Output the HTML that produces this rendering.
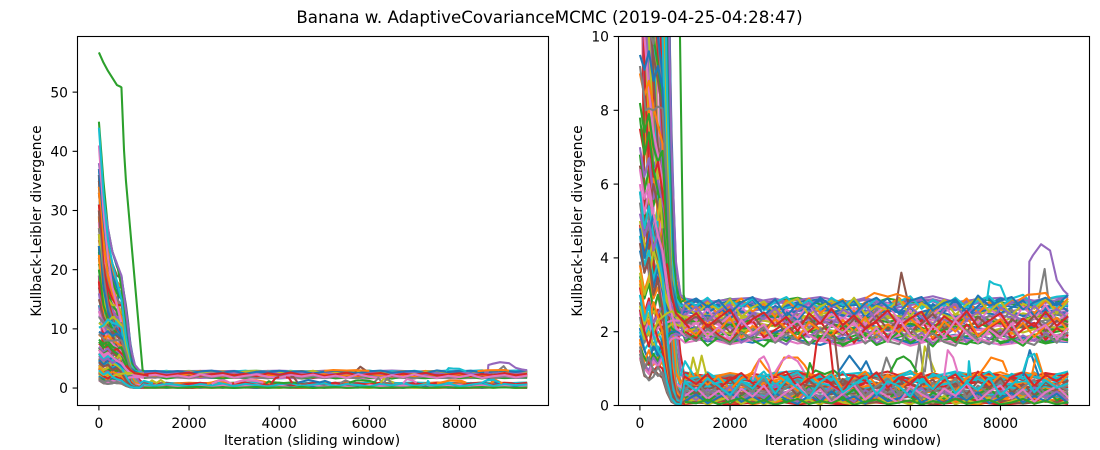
<!DOCTYPE html>
<html lang="en">
<head>
<meta charset="utf-8">
<title>Banana w. AdaptiveCovarianceMCMC</title>
<style>
html,body{margin:0;padding:0;background:#fff;width:1100px;height:450px;overflow:hidden}
svg{display:block}
text{font-family:"DejaVu Sans","Liberation Sans",sans-serif;fill:#000}
</style>
</head>
<body>
<svg id="figure" xmlns="http://www.w3.org/2000/svg" width="1100" height="450" viewBox="0 0 1100 450">
  <text x="549.5" y="23" text-anchor="middle" font-size="16.67">Banana w. AdaptiveCovarianceMCMC (2019-04-25-04:28:47)</text>
  <g id="left-chart"></g>
  <g id="right-chart"></g>
</svg>
<script>
const fallIterations=[0,100,200,300,400,500,600,650,700,750,800,900,1000];
const fallSeries=[
[36,9.5,5.2,4.6,5,4.4,3.4,2.8,2.4,2.2,2.1,2,2.1],
[29,7.5,6,5.2,4.4,4.9,3.8,2.6,1.4,.6,.3,.2,.3],
[24,5.5,4,4.6,3.8,3.4,2.4,1.4,.7,.3,.2,.3,.4],
[19,4.2,3.6,3,3.5,2.9,2.6,2.3,2.2,2.1,2,2,1.9],
[14,8.5,7.2,6.4,6.8,6,4.6,3.4,2.8,2.6,2.5,2.4,2.3],
[30,22,4.8,4,3.3,3.8,3,2.1,1.1,.5,.2,.15,.2],
[28,20,7,5.8,6.2,5.4,4.4,3.6,2.9,2.7,2.6,2.5,2.5],
[26,16,3.4,2.9,3.2,2.6,1.6,.9,.4,.2,.1,.1,.2],
[22,13,5.6,4.8,5.4,4.7,3.6,2.8,2.5,2.4,2.3,2.3,2.2],
[17,12,8.6,7.6,7,7.4,5.2,3.8,3,2.7,2.6,2.5,2.4],
[33,26,24,6.4,5.6,6,4.8,3,1.5,.7,.35,.3,.3],
[27,22,20,4.4,5,4.2,3.2,2.5,2.2,2.1,2,1.9,2],
[22,17,15,3.2,3.8,3.1,2.1,1.2,.6,.3,.15,.15,.25],
[16,14,13,7.8,6.8,7.2,5.6,4,3,2.7,2.5,2.4,2.4],
[12,13,12,5.2,4.6,5,3.9,3,2.6,2.4,2.3,2.2,2.2],
[36,28,23,21,5.2,4.6,3.8,2.2,1,.4,.2,.2,.3],
[30,24,20,17,7.4,6.6,5.4,4,3.1,2.8,2.6,2.5,2.5],
[24,19,16,14,3.6,4.2,3.3,2.6,2.3,2.2,2.1,2,2],
[18,15,14,12,6,5.6,4.2,2.6,1.2,.5,.2,.1,.2],
[13,11,12,11,4.4,3.8,2.6,1.5,.7,.3,.1,.1,.2],
[35,27,22,20,18,6.6,5,3.4,1.8,.8,.3,.2,.3],
[29,23,19,17,15,4.8,3.8,3,2.6,2.4,2.3,2.2,2.2],
[23,18,16,14,13,3.4,2.6,1.6,.8,.4,.15,.1,.2],
[17,15,14,13,12,8.4,6.4,4.6,3.3,2.8,2.6,2.5,2.5],
[12,12,11,12,11,5.8,4.4,2.9,1.4,.6,.25,.15,.25],
[34,26,21,19,17,16,6.8,5,3.6,3,2.7,2.6,2.6],
[28,22,18,16,15,14,4.8,2.9,1.6,.7,.3,.2,.3],
[22,17,15,14,13,13,5.8,4.2,3.2,2.8,2.6,2.5,2.4],
[16,14,13,12,12,12,3.8,2.6,2.2,2.1,2,1.9,2],
[11,11,12,11,11,11,7.6,5.4,3.6,2.9,2.6,2.5,2.4],
[33,25,21,19,17,17,13,9,4,2.8,2.4,2.3,2.3],
[27,21,18,16,15,14,12,8,3.6,1.6,.6,.3,.3],
[21,17,15,14,13,13,11,7,3.2,1.4,.5,.2,.2],
[15,14,13,13,12,12,11,6.4,2.9,2.4,2.2,2.1,2.1],
[12,12,11,11,12,11,10.5,5.8,2.4,1,.4,.2,.2],
[35,28,24,21,19,18.5,14,11,7,3.8,2.9,2.7,2.6],
[30,25,21,19,17,16,13,10.5,6.4,3.4,2.7,2.6,2.5],
[26,21,18,16,15,14,12,10,5.8,3,1.6,.6,.4],
[20,16,15,14,14,13,11.5,9.2,5.2,2.6,1.3,.4,.3],
[14,13,12,12,11,12,10.8,8.4,4.8,2.4,1.1,.3,.2],
[37,30,26,23,20.5,19,13.5,10.5,7.5,5.4,3.8,3,2.8],
[34,27,23,20,18,17,12.5,9.6,7,4.8,3.4,2.9,2.8],
[31,25,21,18,16,15,11.5,8.8,6.2,4.2,3,2.7,2.6],
[25,20,17,15,14,14,10,7.6,5.4,3.6,2.6,1.4,.7],
[19,15,14,13,12,12,9.2,7,4.8,3.2,2.2,1,.5],
[5.8,5,4.2,4.8,3.9,4.4,3.4,2.8,1.6,.7,.3,.2,.3],
[4.6,3.6,4.1,3.2,3.7,2.9,2.3,1.6,.8,.4,.2,.15,.2],
[3.9,2.9,3.4,2.5,3,2.3,2.4,2.5,2.4,2.3,2.2,2.2,2.2],
[3.3,2.4,1.9,2.7,2.1,2.6,2.2,2.3,2.4,2.4,2.3,2.3,2.4],
[2.6,1.8,2.2,1.6,2,1.7,1.2,.8,.4,.2,.1,.1,.15],
[2.1,1.5,1.2,1.7,1.3,1.8,1.9,2,2,2,1.95,1.95,1.9],
[1.8,1.1,.9,1.4,1,1.2,.6,.4,.2,.1,.08,.1,.2],
[6.8,5.8,6.4,5.4,5.9,5.2,4,3,2.6,2.4,2.3,2.2,2.2],
[4.9,4.1,4.7,3.8,3.3,3.9,3,2.6,2.4,2.3,2.3,2.4,2.4]
];
const iterations=[0,100,200,300,400,500,600,700,800,900,1000,1500,2000,2500,3000,3500,4000,4500,5000,5500,6000,6500,7000,7500,8000,8500,9000,9500];
const klSeries=[
[37,28,22,19,17,15,10,5.2,3.3,2.8,2.62,2.7,2.55,2.75,2.6,2.68,2.82,2.58,2.66,2.74,2.9,2.6,2.7,2.56,2.72,2.64,2.8,2.68],
[33,25,19,16,14,12,7,2.5,.9,.6,.82,.7,.85,.66,.9,.74,.6,.86,.72,.8,.64,.88,.7,.78,.9,.7,.84,.86],
[45,35,27,23,21,17,9,4.5,3.2,2.8,2.86,2.75,2.9,2.7,2.82,2.92,2.74,2.85,2.7,2.9,2.78,2.88,2.72,2.9,2.8,2.7,2.86,2.8],
[31,21,15,12,9.5,7.5,4,1.4,.5,.3,.42,.55,.35,.5,.62,.4,.52,.34,.6,.44,.56,.38,.5,.64,.4,.54,.36,.5],
[38,32,27,23,21,19,13,7,3.9,3,2.9,2.8,2.88,2.92,2.76,2.86,2.94,2.8,2.9,2.78,2.84,2.96,2.8,2.88,2.92,2.78,2.9,2.94],
[30,18,12,9,7,6,3.2,1,.4,.35,.22,.3,.15,.28,.2,.36,.18,.26,.12,.3,.22,.16,.32,.2,.28,.14,.26,.2],
[41,30,22,17,14,11,5,1.6,.6,.5,.66,.58,.72,.52,.68,.8,.56,.7,.6,.5,.74,.62,.54,.7,.58,.76,.6,.66],
[27,19,14,11.5,10,8.5,5.5,3.4,2.8,2.6,2.2,2.35,2.12,2.3,2.44,2.18,2.36,2.1,2.28,2.4,2.2,2.34,2.14,2.42,2.24,2.1,2.32,2.2],
[26,16,10,7.5,6,5,2.6,.8,.3,.2,.08,.14,.05,.12,.18,.06,.1,.16,.04,.12,.08,.18,.06,.14,.1,.05,.16,.08],
[44,33,25,21,18,15,8.5,4,2.9,2.7,2.72,2.6,2.78,2.66,2.56,2.74,2.62,2.8,2.68,2.58,2.76,2.64,2.82,2.6,2.7,2.84,2.62,2.72],
[24,17,13,11,10,9,5.8,3.5,2.8,2.4,2.46,2.32,2.5,2.38,2.56,2.42,2.3,2.48,2.58,2.36,2.5,2.4,2.28,2.54,2.44,2.34,2.52,2.4],
[22.5,12,8,6.2,5.2,4.6,2.4,.7,.2,.15,.3,.4,.26,.44,.32,.22,.42,.34,.24,.46,.3,.38,.5,.28,.4,.3,.46,.34],
[20,14,11.5,10,9.2,8,5,3.2,2.6,2.4,1.98,2.12,1.9,2.06,1.94,2.16,1.88,2.04,2.18,1.92,2.08,1.96,2.14,1.86,2.02,2.2,1.94,2.06],
[18,9,6.5,5,4.6,4,2,.6,.2,.1,.72,.6,.78,.64,.56,.76,.68,.54,.82,.62,.7,.84,.58,.66,.8,.6,.72,.64],
[16,11,8.8,7.4,6.6,5.9,4,3,2.5,2.3,2.58,2.46,2.64,2.52,2.4,2.6,2.7,2.5,2.42,2.62,2.54,2.44,2.66,2.5,2.6,2.46,2.56,2.62],
[15,12,10.5,9.5,8.8,8,4.4,1.4,.4,.2,.16,.24,.1,.2,.3,.14,.22,.08,.26,.18,.12,.28,.16,.24,.1,.2,.3,.12],
[13,10,8.5,7.4,6.8,6.1,4.2,2.9,2.4,2.2,1.84,1.96,1.76,1.92,2.04,1.8,1.98,1.72,1.9,2.02,1.78,1.94,1.74,1.88,2,1.76,1.92,1.82],
[12,11,10.2,9.8,10.6,11,6,1.8,.5,.2,.48,.38,.54,.42,.34,.58,.46,.36,.52,.42,.3,.56,.44,.36,.5,.4,.32,.54],
[11,10.4,11.2,12,11.5,10.6,6.8,3.6,2.6,2.3,2.34,2.2,2.4,2.26,2.14,2.36,2.46,2.22,2.12,2.38,2.28,2.16,2.42,2.3,2.18,2.34,2.44,2.24],
[10.2,10.6,11.6,11,10.8,10.2,5.5,1.5,.4,.15,.9,.78,.86,.72,.88,.94,.76,.84,.9,.7,.86,.78,.92,.8,.72,.88,.8,.9],
[9.5,9.1,9.6,8.8,9.2,8.6,5.4,3.4,2.7,2.5,2.14,2.02,2.2,2.08,1.98,2.24,2.1,1.96,2.22,2.04,2.16,2,2.26,2.1,1.98,2.18,2.06,2.2],
[9,8.4,8.8,8.1,7.6,7.1,3.8,1.2,.4,.2,.1,.06,.2,.03,.14,.08,.22,.04,.12,.2,.06,.16,.1,.02,.18,.08,.14,.04],
[8.2,7.4,7.9,7,6.6,6.9,4.6,3,2.5,2.2,1.78,1.9,1.7,1.86,1.74,1.94,1.82,1.66,1.88,1.76,1.96,1.7,1.84,1.92,1.72,1.86,1.68,1.8],
[7.5,6.8,7.2,6.2,6.6,5.8,3.4,1,.3,.18,.6,.48,.66,.52,.44,.68,.54,.42,.62,.5,.7,.46,.58,.64,.48,.6,.5,.68],
[7,6.2,6.7,5.6,6.1,5.4,3.8,2.9,2.4,2.1,2.68,2.78,2.62,2.72,2.84,2.66,2.54,2.76,2.86,2.6,2.72,2.82,2.58,2.78,2.66,2.88,2.7,2.76],
[6.5,5.7,5.2,6,5.4,4.9,2.8,.8,.3,.14,.36,.28,.44,.24,.38,.3,.46,.26,.4,.34,.24,.48,.32,.42,.26,.36,.44,.3],
[6,5.2,5.8,5,4.5,5.1,3.6,2.8,2.4,2.2,2.28,2.16,2.34,2.22,2.42,2.12,2.26,2.38,2.18,2.3,2.08,2.32,2.2,2.36,2.14,2.28,2.4,2.16],
[5.5,4.6,5,4.2,4.8,4,2.4,.7,.22,.1,.76,.66,.82,.7,.6,.84,.72,.62,.8,.66,.76,.6,.86,.74,.64,.82,.7,.78],
[5,4.4,3.9,4.6,4.1,3.6,2.9,2.6,2.4,2.3,2.04,1.92,2.1,2,1.88,2.14,1.98,2.06,1.9,2.12,1.86,2.02,2.1,1.94,2.08,1.84,2,2.12],
[4.6,3.8,4.2,3.4,3.9,3.2,1.8,.6,.16,.08,.18,.26,.12,.32,.2,.1,.28,.16,.34,.14,.24,.3,.12,.22,.34,.16,.26,.18],
[4.2,3.6,4,3.2,3.7,3.1,2.6,2.4,2.3,2.25,2.78,2.66,2.84,2.7,2.6,2.8,2.88,2.68,2.76,2.62,2.86,2.7,2.8,2.64,2.9,2.74,2.66,2.82],
[3.8,3.1,3.5,2.9,3.2,2.7,1.4,.5,.12,.06,.5,.6,.42,.56,.66,.46,.58,.38,.52,.64,.44,.56,.68,.4,.54,.62,.46,.58],
[3.5,2.9,3.3,2.6,3,2.5,2.3,2.1,2,1.95,1.92,1.8,1.98,1.84,1.72,1.96,1.86,1.78,2,1.82,1.74,1.94,1.8,1.68,1.9,1.76,1.86,1.96],
[3.2,2.5,2.9,2.2,2.6,2.1,1.1,.4,.1,.05,.04,.1,.02,.08,.12,.03,.09,.02,.11,.05,.13,.03,.08,.1,.02,.07,.12,.04],
[3,2.4,2.8,2.2,2.5,2.7,2.5,2.4,2.3,2.25,2.5,2.62,2.44,2.56,2.68,2.48,2.6,2.42,2.54,2.7,2.46,2.58,2.4,2.66,2.5,2.62,2.44,2.56],
[2.8,2.1,2.5,1.8,2.2,1.9,.9,.35,.1,.06,.68,.78,.6,.74,.82,.64,.76,.58,.72,.84,.66,.78,.6,.8,.68,.74,.86,.62],
[2.5,2,2.3,1.8,2.1,2.2,2.25,2.3,2.3,2.3,2.16,2.28,2.08,2.24,2.34,2.12,2.22,2.3,2.06,2.2,2.32,2.1,2.26,2.04,2.18,2.32,2.08,2.24],
[2.4,1.7,2,1.5,1.8,1.6,.8,.3,.08,.05,.26,.18,.34,.22,.14,.36,.24,.16,.32,.2,.38,.24,.14,.3,.2,.36,.22,.28],
[2.2,1.8,2,1.6,1.9,2,2.1,2.2,2.2,2.15,2.42,2.3,2.5,2.36,2.24,2.46,2.34,2.52,2.28,2.44,2.34,2.24,2.48,2.38,2.26,2.5,2.36,2.3],
[2,1.5,1.7,1.3,1.6,1.4,.7,.25,.06,.04,.44,.52,.36,.48,.58,.4,.5,.32,.46,.54,.38,.5,.3,.48,.56,.42,.52,.44],
[1.9,1.5,1.2,1.6,1.4,1.7,1.9,2,2,1.95,1.86,1.74,1.82,1.7,1.9,1.78,1.64,1.84,1.72,1.88,1.68,1.8,1.92,1.74,1.66,1.84,1.76,1.72],
[1.7,1.2,1.5,1.1,1.3,1.2,.6,.2,.05,.03,.84,.74,.88,.78,.68,.9,.8,.7,.86,.76,.92,.72,.82,.88,.76,.9,.78,.84],
[1.6,1.3,1.1,1.4,1.2,1.5,1.8,1.95,1.95,1.9,2.1,1.98,2.16,2.04,2.2,1.94,2.08,2.18,1.96,2.12,2.22,2,2.1,2.24,1.98,2.14,2.02,2.16],
[1.5,1,1.2,.9,1.1,1,.5,.15,.04,.02,.14,.2,.08,.18,.24,.1,.16,.06,.2,.12,.26,.08,.18,.14,.06,.22,.1,.16],
[1.4,1.1,.95,1.3,1.1,1.4,1.7,1.9,1.95,1.9,2.3,2.44,2.24,2.38,2.5,2.26,2.4,2.2,2.34,2.48,2.3,2.42,2.22,2.36,2.46,2.28,2.18,2.38],
[1.3,.8,.72,1,.85,.75,.35,.1,.03,.02,.56,.44,.62,.5,.38,.6,.48,.66,.42,.54,.6,.36,.52,.44,.62,.48,.56,.4],
[1.3,1,.85,1.2,1.05,1.3,1.6,1.8,1.85,1.8,1.7,1.82,1.66,1.78,1.86,1.68,1.76,1.6,1.74,1.84,1.62,1.78,1.7,1.82,1.64,1.72,1.8,1.74],
[1.4,.85,.68,.78,1.05,.82,.4,.12,.03,.02,.3,.22,.38,.28,.18,.4,.26,.34,.2,.36,.28,.42,.22,.32,.38,.24,.3,.36],
[3.6,3,3.4,4.2,3.8,3.2,2.8,2.5,2.4,2.35,2.02,2.14,1.94,2.08,2.22,1.98,2.12,1.9,2.06,2.18,1.96,2.1,2.2,1.92,2.08,1.98,2.16,2.04],
[5.8,4.8,5.4,4.6,4.2,3.5,2,.6,.15,.08,.64,.54,.7,.58,.5,.72,.6,.48,.68,.56,.74,.52,.64,.7,.54,.66,.58,.72],
[4.8,4,4.6,5.2,4.4,3.8,3.1,2.7,2.55,2.5,2.54,2.42,2.6,2.48,2.38,2.56,2.64,2.44,2.36,2.58,2.46,2.62,2.4,2.52,2.66,2.42,2.58,2.48],
[3.4,2.6,2.2,2.8,2.4,2,1,.3,.08,.05,.2,.12,.28,.16,.08,.3,.18,.1,.26,.14,.32,.2,.1,.24,.16,.3,.12,.22],
[7.8,6.8,7.4,6.4,5.8,5.2,3.8,2.9,2.6,2.45,2.24,2.36,2.18,2.32,2.44,2.2,2.3,2.14,2.38,2.26,2.42,2.16,2.28,2.4,2.22,2.34,2.48,2.26],
[2.6,2,1.6,2.2,1.8,1.5,.75,.25,.06,.04,.88,.8,.7,.86,.76,.9,.72,.84,.78,.92,.7,.86,.74,.9,.82,.7,.88,.78],
[5.2,4.6,5,4.2,4.7,4.1,3.2,2.7,2.5,2.4,2.76,2.86,2.7,2.8,2.9,2.72,2.84,2.74,2.92,2.68,2.82,2.88,2.74,2.84,2.7,2.9,2.78,2.94],
[4.4,3.6,4,3,3.4,2.6,1.3,.4,.1,.06,.12,.06,.18,.1,.04,.16,.08,.2,.05,.14,.1,.04,.18,.08,.14,.05,.12,.07],
[6.4,5.6,6,5.2,4.6,4.2,3.2,2.5,2.1,2,1.88,2,1.8,1.94,1.84,2.04,1.76,1.9,2.02,1.82,1.98,1.78,1.9,2.06,1.82,1.7,1.96,1.86],
[1.6,1,1.3,.95,.8,.9,.45,.15,.04,.03,.4,.32,.48,.36,.28,.46,.34,.5,.3,.42,.36,.26,.46,.34,.52,.3,.4,.28],
[2.7,2.2,2.5,2,2.3,2.4,2.5,2.55,2.5,2.45,2.38,2.5,2.3,2.44,2.56,2.34,2.48,2.6,2.32,2.46,2.38,2.56,2.34,2.48,2.6,2.3,2.52,2.44],
[3,2.3,2.7,1.9,1.5,1.3,.65,.2,.05,.03,.7,.82,.64,.76,.86,.62,.78,.68,.88,.72,.6,.8,.9,.66,.78,.86,.7,.8]
];
const bandIterations=[1000,1250,1500,1750,2000,2250,2500,2750,3000,3250,3500,3750,4000,4250,4500,4750,5000,5250,5500,5750,6000,6250,6500,6750,7000,7250,7500,7750,8000,8250,8500,8750,9000,9250,9500];
const bandSeries=[
[2.85,2.6,2.8,2.45,2.7,2.9,2.55,2.75,2.4,2.85,2.6,2.9,2.5,2.75,2.88,2.55,2.8,2.45,2.7,2.92,2.6,2.78,2.5,2.86,2.65,2.9,2.5,2.8,2.6,2.88,2.7,2.5,2.85,2.6,2.9],
[1.8,2.05,1.75,1.95,2.15,1.7,1.9,2.1,1.8,1.65,2,1.85,2.1,1.72,1.95,1.78,2.12,1.68,1.9,2.05,1.75,1.98,1.66,1.88,2.1,1.7,1.95,1.8,2.05,1.7,1.9,1.75,2,1.72,1.95],
[2.35,2.1,2.4,2.2,2.55,2.25,2.05,2.4,2.6,2.2,2.45,2.1,2.35,2.55,2.15,2.4,2.2,2.6,2.3,2.08,2.42,2.25,2.58,2.12,2.36,2.5,2.18,2.44,2.26,2.6,2.1,2.38,2.22,2.5,2.3],
[2.6,2.85,2.5,2.72,2.35,2.65,2.88,2.45,2.7,2.55,2.3,2.68,2.86,2.5,2.62,2.85,2.38,2.72,2.9,2.48,2.66,2.3,2.75,2.55,2.88,2.4,2.7,2.92,2.5,2.65,2.85,2.42,2.6,2.8,2.55],
[2,1.82,2.2,1.9,1.72,2.1,2.3,1.85,2.05,2.25,1.78,2,2.28,1.88,2.12,1.7,2.08,2.26,1.84,2.15,1.94,2.32,1.8,2.02,1.72,2.2,1.9,2.1,2.3,1.82,2.06,2.24,1.78,2.1,1.88],
[2.5,2.3,2.62,2.18,2.44,2.7,2.3,2.52,2.2,2.6,2.38,2.74,2.26,2.48,2.32,2.66,2.2,2.5,2.76,2.28,2.56,2.16,2.46,2.7,2.34,2.58,2.24,2.62,2.4,2.2,2.68,2.36,2.72,2.28,2.52],
[2.9,2.7,2.92,2.62,2.84,2.68,2.9,2.58,2.8,2.94,2.66,2.86,2.6,2.92,2.72,2.88,2.64,2.9,2.7,2.82,2.96,2.62,2.86,2.7,2.92,2.66,2.84,2.96,2.68,2.9,3,2.72,2.88,2.95,2.98],
[1.72,1.95,1.62,1.85,1.7,2,1.78,1.6,1.9,1.74,2.02,1.66,1.84,1.98,1.62,1.8,1.92,1.64,1.76,2,1.7,1.86,1.6,1.94,1.72,1.66,1.88,2.04,1.68,1.8,1.62,1.92,1.7,1.84,1.76],
[2.2,2.42,2.08,2.3,1.98,2.24,2.46,2.04,2.34,1.94,2.18,2.4,2.02,2.28,1.92,2.36,2.1,2.44,2.06,2.32,1.96,2.22,2.48,2.08,2.26,2,2.4,2.14,1.9,2.34,2.12,2.44,2.02,2.3,2.18],
[2.72,2.45,2.78,2.58,2.88,2.4,2.66,2.82,2.52,2.78,2.9,2.44,2.68,2.84,2.56,2.92,2.48,2.7,2.58,2.88,2.42,2.76,2.6,2.86,2.46,2.74,2.9,2.54,2.82,2.44,2.76,2.62,2.9,2.5,2.84],
[2.12,1.9,2.3,2.02,2.38,1.84,2.16,1.95,2.34,2.1,1.82,2.26,2.04,1.88,2.32,2,2.4,1.86,2.2,1.98,2.36,2.08,1.84,2.28,2,2.42,1.88,2.14,2.34,1.94,2.24,1.86,2.16,2.38,2.04],
[2.45,2.68,2.28,2.56,2.74,2.22,2.5,2.34,2.64,2.24,2.56,2.78,2.36,2.16,2.6,2.42,2.72,2.3,2.5,2.24,2.68,2.4,2.2,2.6,2.74,2.32,2.54,2.2,2.66,2.46,2.3,2.7,2.4,2.62,2.36],
[1.92,1.75,2.08,1.84,1.66,1.98,1.78,2.12,1.7,1.94,1.76,1.64,2.06,1.82,1.72,2.02,1.68,1.92,1.74,1.66,2.1,1.78,1.96,1.72,1.62,2.04,1.78,1.66,1.88,2.06,1.74,1.64,1.94,1.7,2],
[2.78,2.9,2.68,2.86,2.5,2.8,2.94,2.62,2.88,2.42,2.76,2.64,2.92,2.7,2.84,2.46,2.78,2.92,2.66,2.52,2.84,2.94,2.58,2.78,2.88,2.52,2.98,2.7,2.84,2.94,2.6,2.8,2.92,2.72,3],
[2.28,2.5,2.14,2.38,2.6,2.1,2.34,2.52,2.16,2.4,2.02,2.5,2.22,2.62,2.18,2.44,2.08,2.3,2.58,2.14,2.36,2.54,2.06,2.42,2.2,2.56,2.12,2.3,2.5,2.04,2.36,2.14,2.54,2.16,2.42],
[2.04,2.24,1.86,2.12,1.8,2.32,1.96,2.2,1.76,2.08,2.3,1.9,1.74,2.18,1.96,2.26,1.8,2.1,1.72,2.34,1.9,1.72,2.16,1.86,2.3,1.96,1.7,2.06,1.84,2.22,1.7,2,2.18,1.8,2.1],
[.85,.62,.9,.7,.5,.84,.66,.92,.55,.78,.9,.6,.82,.68,.92,.52,.76,.88,.62,.8,.94,.58,.86,.7,.9,.6,.78,.92,.64,.86,.72,.9,.6,.84,.92],
[.2,.42,.1,.34,.06,.28,.48,.14,.36,.08,.3,.5,.12,.38,.2,.44,.08,.32,.14,.46,.22,.06,.36,.18,.42,.1,.3,.48,.16,.38,.06,.26,.44,.14,.3],
[.55,.32,.64,.42,.74,.3,.52,.7,.36,.6,.26,.68,.44,.3,.72,.5,.34,.62,.4,.76,.28,.56,.7,.38,.6,.3,.66,.46,.74,.34,.58,.28,.64,.42,.7],
[.05,.2,.02,.14,.24,.04,.18,.03,.12,.26,.05,.16,.02,.22,.08,.03,.18,.28,.04,.12,.02,.2,.08,.26,.03,.15,.05,.22,.03,.12,.24,.04,.18,.02,.14],
[.7,.88,.56,.8,.42,.74,.9,.5,.84,.64,.4,.86,.6,.9,.46,.72,.92,.54,.84,.44,.7,.9,.52,.8,.38,.74,.9,.56,.82,.66,.42,.88,.74,.5,.86],
[.34,.15,.44,.24,.52,.12,.38,.2,.56,.28,.1,.46,.18,.54,.3,.1,.42,.22,.58,.16,.34,.48,.1,.4,.2,.56,.24,.1,.44,.3,.12,.5,.2,.38,.14],
[.44,.66,.28,.56,.2,.6,.36,.72,.24,.5,.7,.3,.58,.16,.48,.68,.26,.52,.72,.32,.5,.18,.62,.4,.74,.22,.54,.34,.66,.18,.5,.7,.3,.58,.4],
[.12,.3,.06,.22,.36,.1,.26,.06,.34,.16,.04,.28,.1,.38,.14,.24,.05,.32,.12,.2,.4,.08,.24,.04,.3,.14,.36,.06,.2,.34,.08,.26,.12,.32,.06],
[.78,.58,.86,.46,.7,.88,.6,.44,.8,.92,.5,.72,.88,.56,.38,.82,.66,.9,.48,.76,.58,.88,.42,.68,.84,.5,.92,.64,.44,.78,.9,.54,.82,.66,.88],
[.26,.48,.18,.4,.1,.46,.24,.54,.14,.36,.58,.2,.44,.08,.32,.56,.16,.42,.24,.06,.52,.3,.14,.46,.26,.6,.12,.38,.54,.2,.44,.1,.36,.52,.22],
[.62,.4,.74,.52,.28,.66,.46,.8,.32,.7,.48,.2,.64,.84,.36,.58,.78,.3,.66,.52,.24,.72,.44,.82,.34,.62,.42,.76,.28,.56,.84,.36,.68,.48,.6],
[.1,.06,.16,.03,.12,.2,.05,.14,.02,.1,.18,.04,.12,.06,.2,.02,.1,.16,.03,.08,.14,.02,.12,.05,.18,.04,.1,.15,.03,.08,.18,.05,.12,.03,.09]
];
const spikeIterations=[
[0,100,200,300,400,483,500,557,600,970,1000],
[0,90,130,200,300,400,500,600,700,800],
[8550,8630,8640,8720,8900,9100,9250,9400,9500],
[8850,8980,9060],
[5680,5800,5950],
[7700,7760,7850,8000,8150],
[2400,2550,2650,2800,2950],
[2500,2650,2750,2850,2950],
[3000,3200,3500,3650,3800],
[3000,3150,3300,3500,3650],
[1100,1180,1280,1370,1470],
[900,1000,1100,1200],
[3700,3770,3850,3900,4100,4300,4450],
[3830,3920,4000],
[4150,4210,4290],
[4250,4320,4430],
[4400,4650,4900,5020,5150],
[6100,6200,6300],
[6250,6320,6550],
[6320,6400,6480],
[5350,5470,5600],
[5550,5700,5850,6000,6150],
[6750,6830,6950,7050],
[7280,7300,7340],
[7500,7650,7790,8050,8150],
[8500,8650,8850],
[8700,8800,8950],
[8500,8600,8750,8900],
[8400,8600,8800,9000,9100],
[400,450,500],
[5000,5200,5500,5700,6000],
[600,700,800,1100]
];
const spikeValues=[
[56.7,55,53.6,52.4,51.2,50.9,50.8,40.2,35,3,2.85],
[9.2,8.4,8,8.05,8,8.1,8.05,6,3.2,2.4],
[2.6,2.7,3.9,4.07,4.37,4.2,3.4,3.12,3],
[2.9,3.7,2.9],
[2.7,3.6,2.8],
[2.85,3.37,3.3,3.25,2.8],
[.7,1.05,1.25,1,.8],
[.7,1.25,1.33,1.1,.7],
[.8,1.3,1.3,1.1,.8],
[.9,1.2,1.35,1.2,.9],
[.8,1.3,.85,1.35,.85],
[.8,1.2,1,.8],
[.75,1.15,.9,.95,.85,.95,.8],
[.85,1.7,1.85],
[1.8,1.75,.85],
[1.9,1.85,.7],
[.9,1.35,.95,1.2,.85],
[.9,1.7,.8],
[.9,1.6,.9],
[.9,1.7,.9],
[.8,1.3,.9],
[.9,1.25,1.33,1.2,.9],
[.8,1.5,1.3,.9],
[.8,1.2,.8],
[.8,1.05,1.3,1.2,.9],
[.8,1.5,.8],
[.85,1.4,.8],
[.9,1.3,1.4,.9],
[2.85,3,3.02,3.05,2.9],
[5,5.6,4.8],
[2.9,3.05,2.95,3.02,2.9],
[3.85,3,2.5,2.1]
];
const spikeColorIndex=[2,7,4,7,5,9,1,6,1,6,8,9,2,3,3,5,0,7,8,7,7,2,6,9,1,0,1,9,1,8,1,3];
const palette=["#1f77b4","#ff7f0e","#2ca02c","#d62728","#9467bd","#8c564b","#e377c2","#7f7f7f","#bcbd22","#17becf"];
const xTickValues=[0,2000,4000,6000,8000];
const leftYTickValues=[0,10,20,30,40,50];
const rightYTickValues=[0,2,4,6,8,10];
const xAxisTitle="Iteration (sliding window)";
const yAxisTitle="Kullback-Leibler divergence";

const SVGNS="http://www.w3.org/2000/svg";
function drawChart(rootId,prefix,box,xDomain,yDomain,yTicks){
  const root=document.getElementById(rootId);
  const sx=v=>box.l+(v-xDomain[0])/(xDomain[1]-xDomain[0])*(box.r-box.l);
  const sy=v=>box.b-(v-yDomain[0])/(yDomain[1]-yDomain[0])*(box.b-box.t);
  const clip=document.createElementNS(SVGNS,"clipPath");
  clip.setAttribute("id",prefix+"-clip");
  const cr=document.createElementNS(SVGNS,"rect");
  cr.setAttribute("x",box.l);cr.setAttribute("y",box.t);
  cr.setAttribute("width",box.r-box.l);cr.setAttribute("height",box.b-box.t);
  clip.appendChild(cr);root.appendChild(clip);
  const plot=document.createElementNS(SVGNS,"g");
  plot.setAttribute("clip-path","url(#"+prefix+"-clip)");
  
  
  root.appendChild(plot);
  function addLine(xs,ys,color){
    const p=document.createElementNS(SVGNS,"polyline");
    
    
    p.setAttribute("points",ys.map((y,i)=>sx(xs[i]).toFixed(2)+","+sy(y).toFixed(2)).join(" "));
    p.setAttribute("fill","none");
    p.setAttribute("stroke",color);
    p.setAttribute("stroke-width","2.08");
    p.setAttribute("stroke-linejoin","round");
    plot.appendChild(p);
  }
  fallSeries.forEach((row,i)=>addLine(fallIterations,row,palette[i%10]));
  klSeries.forEach((row,i)=>addLine(iterations,row,palette[i%10]));
  bandSeries.forEach((row,i)=>addLine(bandIterations,row,palette[(i*3+1)%10]));
  spikeValues.forEach((row,i)=>addLine(spikeIterations[i],row,palette[spikeColorIndex[i]]));
  const frame=document.createElementNS(SVGNS,"rect");
  
  
  frame.setAttribute("x",box.l);frame.setAttribute("y",box.t);
  frame.setAttribute("width",box.r-box.l);frame.setAttribute("height",box.b-box.t);
  frame.setAttribute("fill","none");frame.setAttribute("stroke","#000");frame.setAttribute("stroke-width","1.1");
  root.appendChild(frame);
  function addTick(x1,y1,x2,y2,name){
    const t=document.createElementNS(SVGNS,"line");
    
    
    t.setAttribute("x1",x1);t.setAttribute("y1",y1);t.setAttribute("x2",x2);t.setAttribute("y2",y2);
    t.setAttribute("stroke","#000");t.setAttribute("stroke-width","1.1");
    root.appendChild(t);
  }
  function addText(x,y,str,anchor,name,rot){
    const t=document.createElementNS(SVGNS,"text");
    
    
    t.setAttribute("x",x);t.setAttribute("y",y);
    t.setAttribute("text-anchor",anchor);
    t.setAttribute("font-size","13.89");
    if(rot)t.setAttribute("transform","rotate(-90 "+x+" "+y+")");
    t.textContent=str;
    root.appendChild(t);
  }
  xTickValues.forEach(v=>{
    addTick(sx(v),box.b,sx(v),box.b+4.9,"x-tick");
    addText(sx(v),box.b+22.5,String(v),"middle","x-tick-label");
  });
  yTicks.forEach(v=>{
    addTick(box.l,sy(v),box.l-4.9,sy(v),"y-tick");
    addText(box.l-9.5,sy(v)+5.2,String(v),"end","y-tick-label");
  });
  addText((box.l+box.r)/2-1,box.b+39.5,xAxisTitle,"middle","x-axis-title");
  addText(box.yLabelX,(box.t+box.b)/2,yAxisTitle,"middle","y-axis-title",true);
}
drawChart("left-chart","left",{l:77.5,r:548.5,t:36.5,b:405.5,yLabelX:41},[-475,9975],[-2.95,59.4],leftYTickValues);
drawChart("right-chart","right",{l:618.5,r:1089.5,t:36.5,b:405.5,yLabelX:582},[-475,9975],[0,10],rightYTickValues);
</script>
</body>
</html>
